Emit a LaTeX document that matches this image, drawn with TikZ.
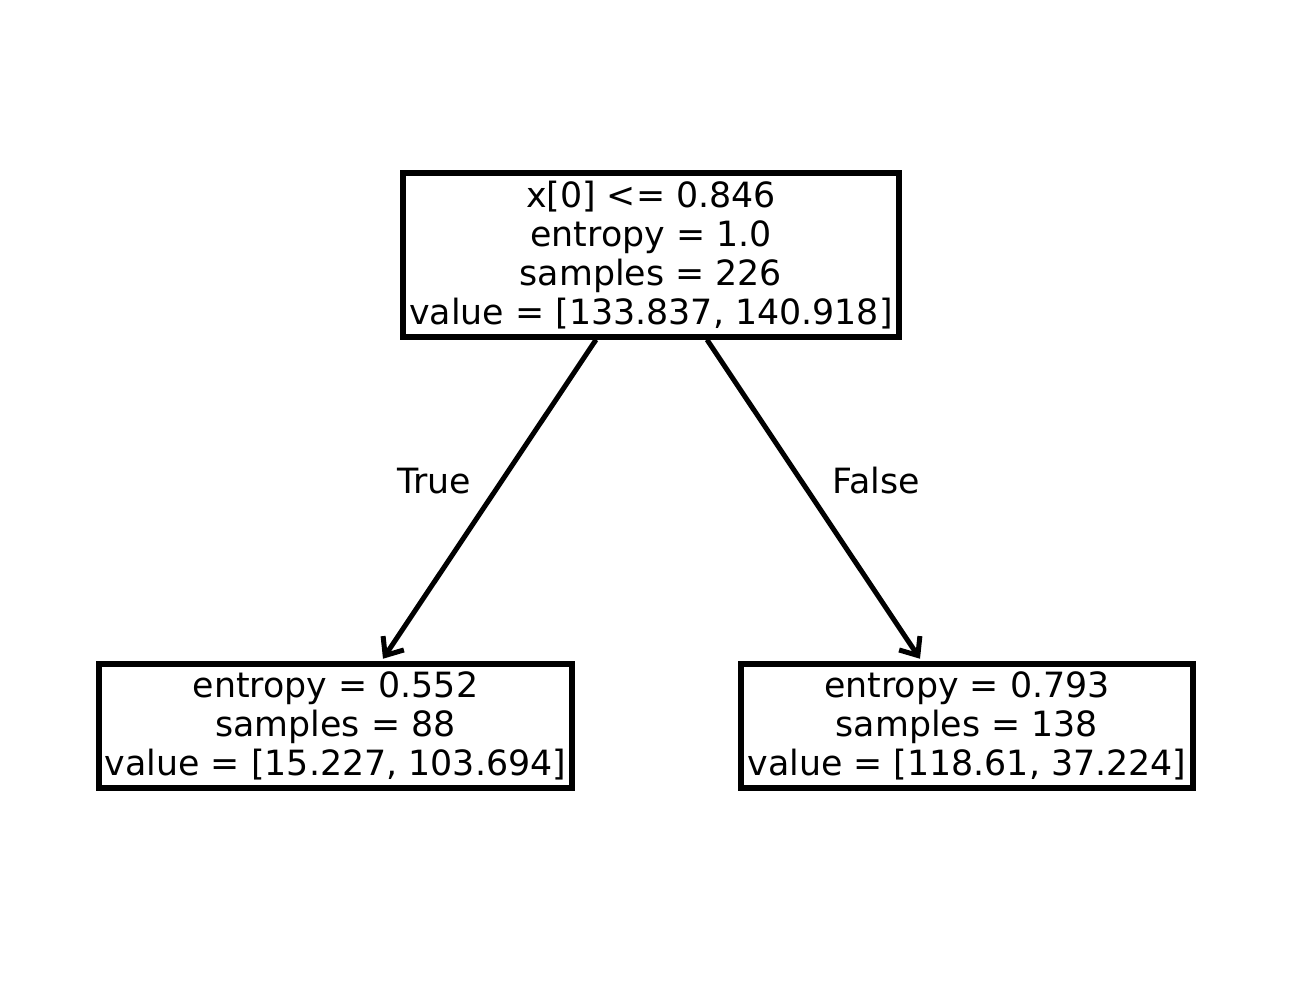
\documentclass[tikz,border=0pt]{standalone}
\usepackage{fontspec}
\setmainfont{DejaVu Sans}
\usetikzlibrary{arrows.meta}
\newcommand{\treefont}{\fontsize{19.8pt}{22.2pt}\selectfont}
\tikzset{
  treebox/.style={draw, line width=0.11cm, align=center, inner sep=0pt, font=\treefont},
  treeedge/.style={line width=0.1cm, -{Straight Barb[length=0.3cm,width=0.5cm,line width=0.1cm]}},
  edgelabel/.style={font=\treefont}
}
\begin{document}
\begin{tikzpicture}
\useasboundingbox (0,0) rectangle (26.06,19.66);
\node[treebox, minimum width=9.92cm, minimum height=3.28cm] (root) at (13.02,14.56)
  {x[0] <= 0.846\\entropy = 1.0\\samples = 226\\value = [133.837, 140.918]};
\node[treebox, minimum width=9.46cm, minimum height=2.48cm] (leafl) at (6.71,5.14)
  {entropy = 0.552\\samples = 88\\value = [15.227, 103.694]};
\node[treebox, minimum width=9.04cm, minimum height=2.48cm] (leafr) at (19.34,5.14)
  {entropy = 0.793\\samples = 138\\value = [118.61, 37.224]};
\draw[treeedge] ([xshift=-1.1cm]root.south) -- ([xshift=0.95cm,yshift=0.05cm]leafl.north);
\draw[treeedge] ([xshift=1.12cm]root.south) -- ([xshift=-0.94cm,yshift=0.05cm]leafr.north);
\node[edgelabel] (truelbl) at (8.68,10.04) {True};
\node[edgelabel] (falselbl) at (17.52,10.04) {False};
\end{tikzpicture}
\end{document}
